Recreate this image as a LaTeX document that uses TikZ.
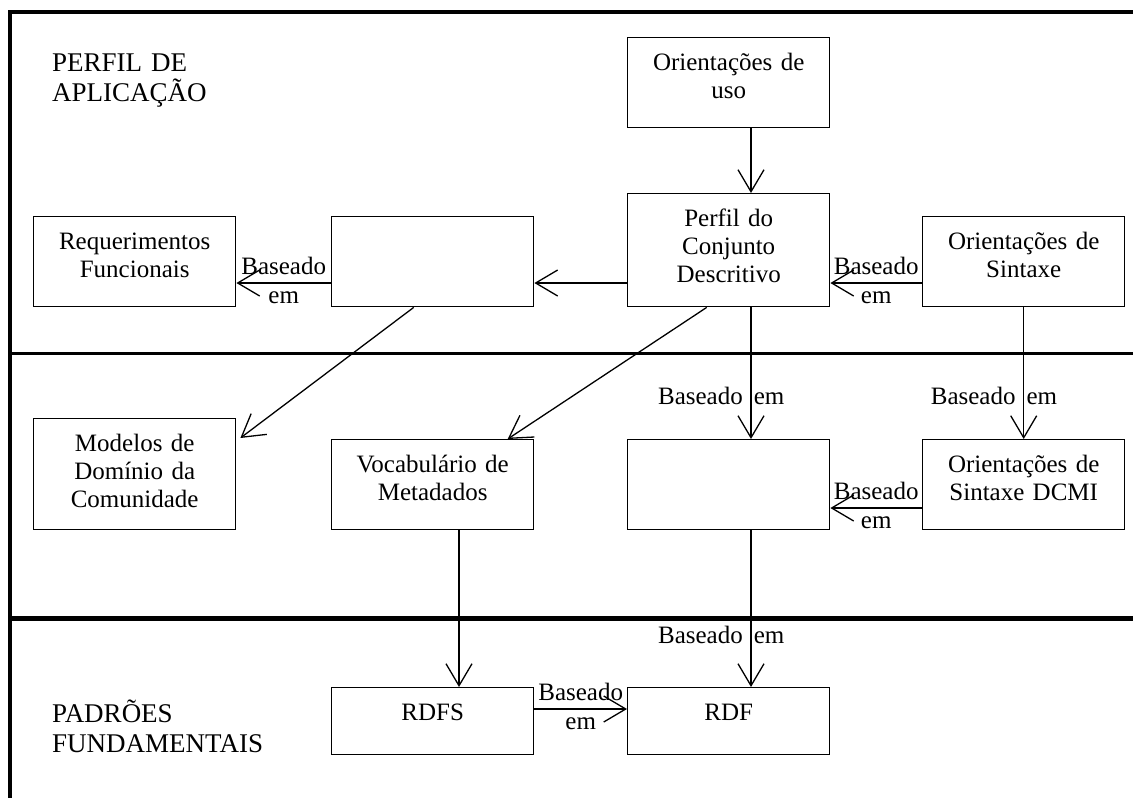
\documentclass[tikz,border=0pt]{standalone}
\usepackage{fontspec}
\setmainfont{Liberation Serif}
\usetikzlibrary{arrows.meta}

\tikzset{
  box/.style={draw, line width=1.4pt, anchor=north west, text width=202pt, align=center,
    inner xsep=0pt, inner ysep=16pt, text height=17pt, text depth=41pt,
    font=\fontsize{25}{28}\selectfont},
  tallbox/.style={box, text depth=64pt},
  lowbox/.style={box, text depth=18pt},
  link/.style={-{Straight Barb[length=22pt,width=26pt]}, line width=1.3pt},
  basedon/.style={font=\fontsize{25}{29}\selectfont, text width=90pt, align=center,
    inner sep=0pt, anchor=base, yshift=9pt},
  basedin/.style={font=\fontsize{25}{29}\selectfont, inner sep=0pt, anchor=base east, xshift=34pt},
  layer/.style={font=\fontsize{27}{30}\selectfont, text width=240pt, align=left,
    inner sep=0pt, anchor=base west},
}

\begin{document}
\begin{tikzpicture}[x=1pt, y=-1pt]
    \useasboundingbox (0,0) rectangle (1133,798);

    % layer frame
    \draw[line width=4pt] (8,12) -- (1133,12);
    \draw[line width=4pt] (9.5,10) -- (9.5,798);
    \draw[line width=3pt] (8,353) -- (1133,353);
    \draw[line width=5pt] (8,618) -- (1133,618);

    \node[layer] (aplic) at (52,71) {PERFIL DE\\APLICAÇÃO};
    \node[layer] (fund) at (52,722) {PADRÕES\\FUNDAMENTAIS};

    % boxes
    \node[box] (uso) at (627,37) {Orientações de\\uso};
    \node[box] (req) at (33,216) {Requerimentos\\Funcionais};
    \node[box] (mid) at (331,216) {};
    \node[tallbox] (perfil) at (627,193) {Perfil do\\Conjunto\\Descritivo};
    \node[box] (sint) at (922,216) {Orientações de\\Sintaxe};

    \node[tallbox, text depth=62pt] (dom) at (33,418) {Modelos de\\Domínio da\\Comunidade};
    \node[box] (vocab) at (331,439) {Vocabulário de\\Metadados};
    \node[box] (mid2) at (627,439) {};
    \node[box] (dcmi) at (922,439) {Orientações de\\Sintaxe DCMI};

    \node[lowbox] (rdfs) at (331,687) {RDFS};
    \node[lowbox] (rdf) at (627,687) {RDF};

    % rails for the connectors
    \coordinate (mx) at (751,0);
    \coordinate (vx) at (459,0);
    \coordinate (ry) at (0,283);
    \coordinate (dy) at (0,508);
    \coordinate (fy) at (0,709);

    % connectors
    \draw[link] (uso.south -| mx) -- (perfil.north -| mx);
    \draw[link] (mid.west |- ry) -- node[basedon] {Baseado\\em} (req.east |- ry);
    \draw[link] (perfil.west |- ry) -- (mid.east |- ry);
    \draw[link] (sint.west |- ry) -- node[basedon] {Baseado\\em} (perfil.east |- ry);

    \draw[link] ([xshift=-19pt]mid.south) -- ([shift={(4,20)}]dom.north east);
    \draw[link] ([xshift=-22pt]perfil.south) -- ([xshift=75pt]vocab.north);
    \draw[link] (perfil.south -| mx) -- node[basedin, pos=0.74] {Baseado\hspace{11pt}em} (mid2.north -| mx);
    \draw[link] (sint.south) -- node[basedin, pos=0.74] {Baseado\hspace{11pt}em} (dcmi.north);
    \draw[link] (dcmi.west |- dy) -- node[basedon] {Baseado\\em} (mid2.east |- dy);

    \draw[link] (vocab.south -| vx) -- (rdfs.north -| vx);
    \draw[link] (mid2.south -| mx) -- node[basedin, pos=0.72] {Baseado\hspace{11pt}em} (rdf.north -| mx);
    \draw[link] (rdfs.east |- fy) -- node[basedon] {Baseado\\em} (rdf.west |- fy);
\end{tikzpicture}
\end{document}
